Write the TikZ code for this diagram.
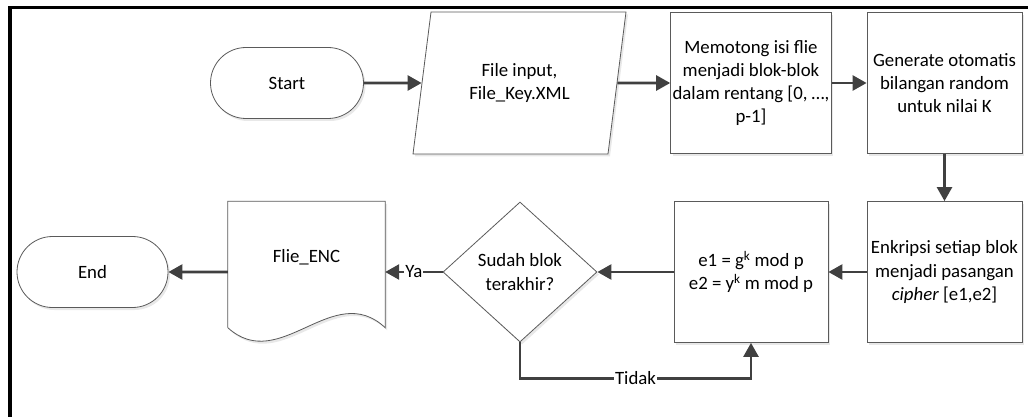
\documentclass[tikz,border=0pt]{standalone}
\usepackage{fontspec}
\setmainfont{Carlito}
\usetikzlibrary{arrows.meta}
\usetikzlibrary{shapes.geometric, shapes.misc}
\usetikzlibrary{shadows}
\tikzset{>={Triangle[width=15pt,length=14pt]}}
\usepackage{xcolor}
\definecolor{wire}{HTML}{404040}
\definecolor{rim}{HTML}{5A5A5A}
\tikzset{
	shade/.style={drop shadow={opacity=0.18, shadow xshift=2pt, shadow yshift=-2.5pt}},
	flowbox/.style={shade, draw=rim, line width=0.8pt, fill=white, align=center, inner sep=2pt},
	procbox/.style={flowbox, rectangle, minimum width=155pt, minimum height=141pt},
	termbox/.style={flowbox, rounded rectangle, minimum width=157pt, minimum height=71pt},
	tag/.style={fill=white, inner sep=1pt, text=black},
	flow/.style={arrows=->, color=wire, line width=2.6pt}
}

\begin{document}
\begin{tikzpicture}[x=1pt, y=-1pt, font=\fontsize{18.8}{23.2}\selectfont]
		\useasboundingbox (0,0) rectangle (1028,417);
		%frame
		\draw [line width=3.6pt] (10,417) -- (10,7.5) -- (1028,7.5);
		%top row
		\node [termbox] (start) at (287,83) {Start};
		\node [flowbox, trapezium, trapezium left angle=67.4, trapezium right angle=112.6, trapezium stretches body, minimum width=213pt, minimum height=142pt] (input) at (519.5,83) {File input,\\File\_Key.XML};
		\node [procbox, minimum width=154pt] (cut) at (751,83) {Memotong isi flie\\menjadi blok-blok\\dalam rentang [0, \dots,\\p-1]};
		\node [procbox] (gen) at (944.5,83) {Generate otomatis\\bilangan random\\untuk nilai K};
		%bottom row
		\node [procbox] (enc) at (944.5,272) {Enkripsi setiap blok\\menjadi pasangan\\\textit{cipher} [e1,e2]};
		\node [procbox, minimum width=154pt] (calc) at (751,272) {e1 = g\textsuperscript{k} mod p\\e2 = y\textsuperscript{k} m mod p};
		\node [flowbox, diamond, minimum width=154pt, minimum height=140pt, inner sep=0pt] (dec) at (520,272) {Sudah blok\\terakhir?};
		%document
		\node [minimum width=157pt, minimum height=141pt] (doc) at (306.5,272) {};
		\draw [shade, draw=rim, line width=0.8pt, fill=white] (doc.south west) ++(0,-15) -- (doc.north west) -- (doc.north east) -- ([yshift=15pt]doc.south east) .. controls (333,279) and (280,375) .. ([yshift=15pt]doc.south west);
		\node (doctext) at (306.5,257) {Flie\_ENC};
		\node [termbox, minimum width=155pt] (end) at (92.5,272) {End};
		%arrows
		\draw [flow] (start) -- (input);
		\draw [flow] (input) -- (cut);
		\draw [flow] (cut) -- (gen);
		\draw [flow] (gen) -- (enc);
		\draw [flow] (enc) -- (calc);
		\draw [flow] (calc) -- (dec);
		\draw [flow] (dec) -- node [tag] {Ya} (doc);
		\draw [flow] (doc) -- (end);
		\draw [flow] (dec.south) -- ++(0,36) -| node [tag, pos=0.25] {Tidak} (calc.south);
	\end{tikzpicture}
\end{document}
